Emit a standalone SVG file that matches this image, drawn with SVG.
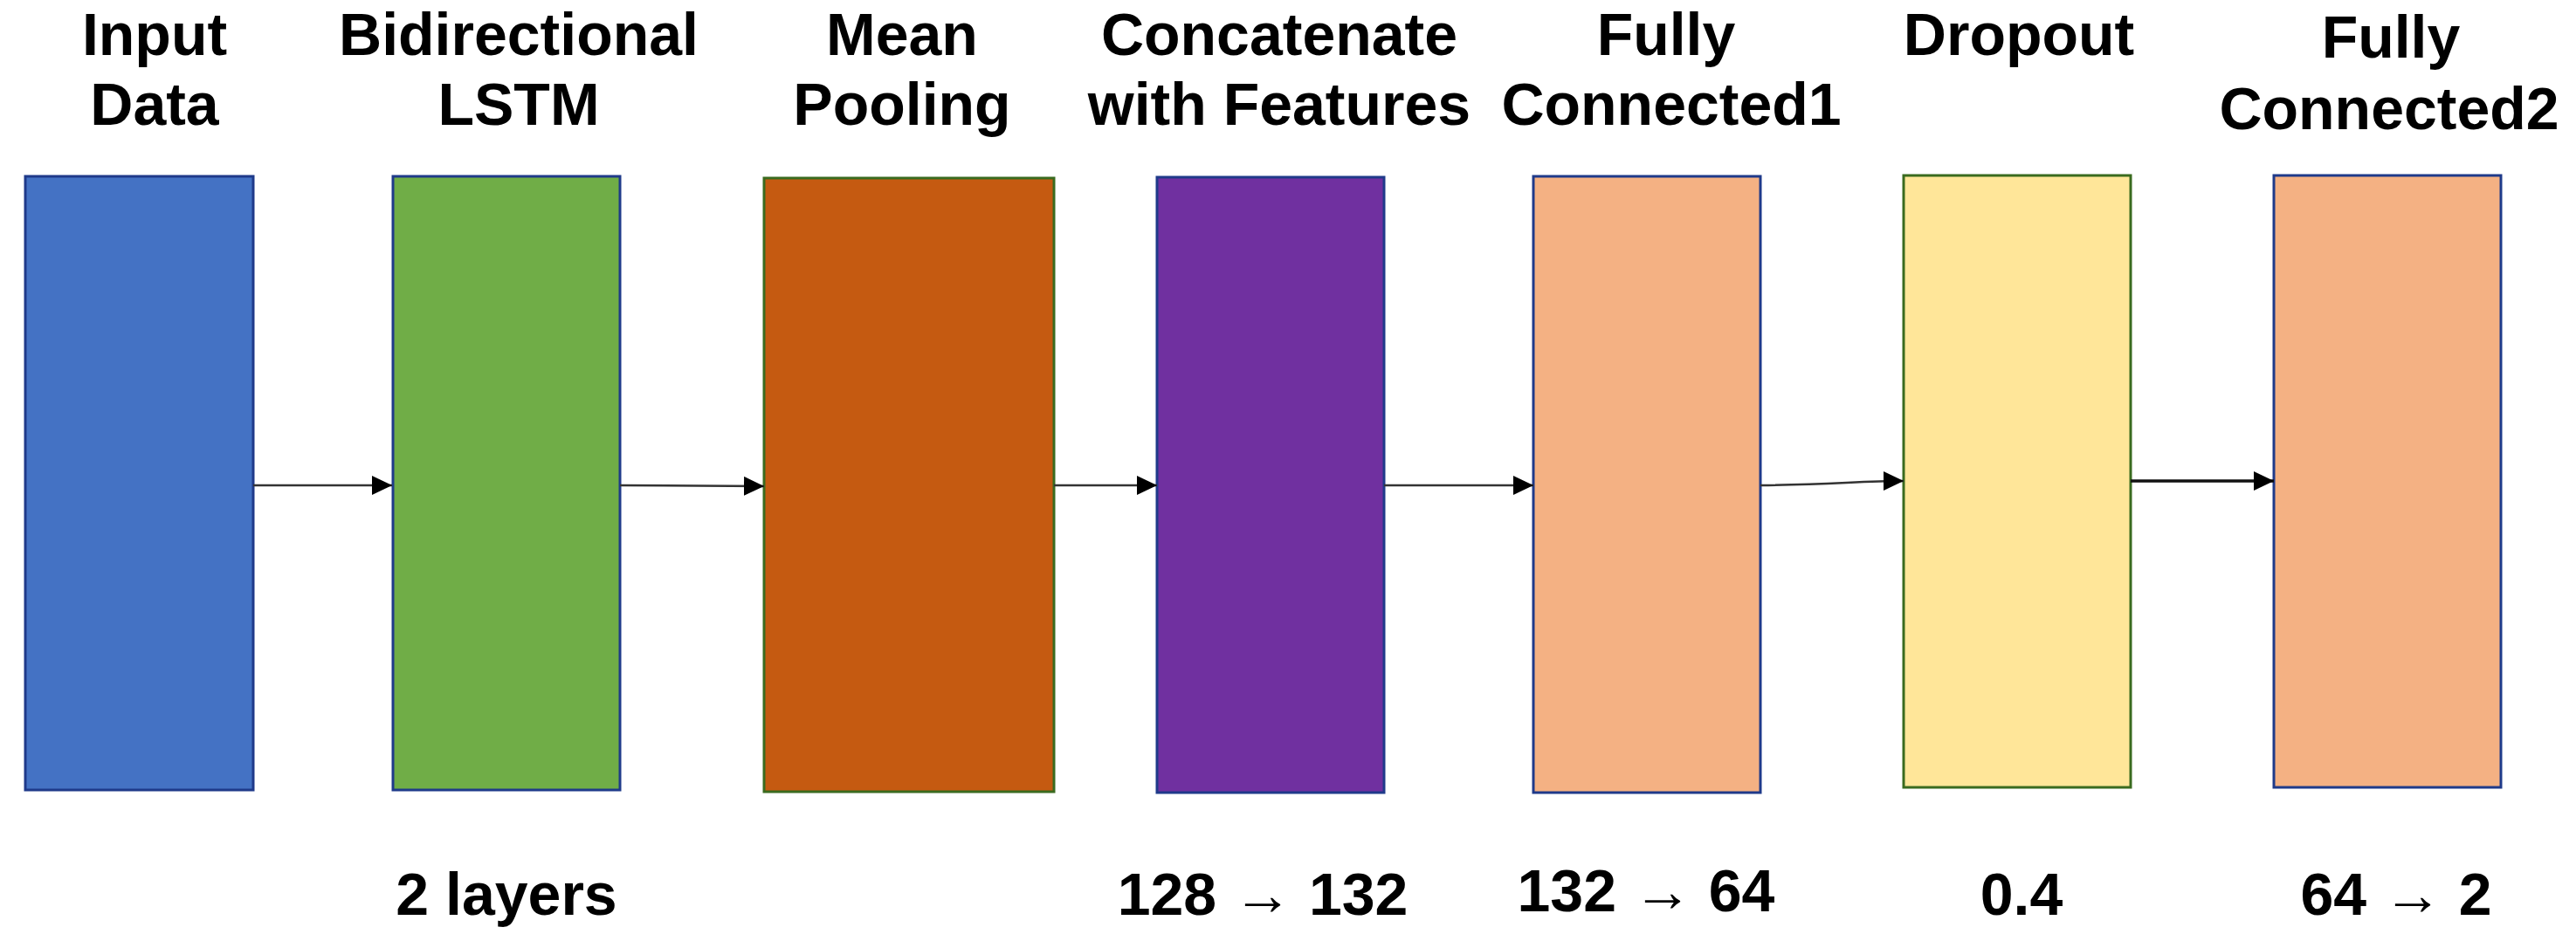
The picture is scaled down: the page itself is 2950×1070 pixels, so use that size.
<svg xmlns="http://www.w3.org/2000/svg" width="2950" height="1070" viewBox="0 0 2950 1070">
<style>
text{font-family:"Liberation Sans",Arial,sans-serif;font-weight:bold;font-size:68px;fill:#000;text-anchor:middle}
.box{stroke-width:3}
.blue{stroke:#1f3a8a}
.green{stroke:#3a6b1f}
.conn{fill:none;stroke:#333;stroke-width:2.5}
</style>
<defs>
<marker id="ah" markerUnits="userSpaceOnUse" markerWidth="24" markerHeight="24" refX="23" refY="11" orient="auto">
<path d="M0,0 L23,11 L0,22 Z" fill="#000"/>
</marker>
</defs>
<rect width="2950" height="1070" fill="#fff"/>
<g id="n1">
<rect class="box blue" x="29" y="202" width="261" height="703" fill="#4472C4"/>
<text x="177" y="63">Input</text>
<text x="177" y="143">Data</text>
</g>
<g id="n2">
<rect class="box blue" x="450" y="202" width="260" height="703" fill="#70AD47"/>
<text x="594" y="63">Bidirectional</text>
<text x="594" y="143">LSTM</text>
<text x="580" y="1048">2 layers</text>
</g>
<g id="n3">
<rect class="box green" x="875" y="204" width="332" height="703" fill="#C55A11"/>
<text x="1033" y="63">Mean</text>
<text x="1033" y="143">Pooling</text>
</g>
<g id="n4">
<rect class="box blue" x="1325" y="203" width="260" height="705" fill="#7030A0"/>
<text x="1465" y="63">Concatenate</text>
<text x="1465" y="143">with Features</text>
<text x="1446" y="1048">128 → 132</text>
</g>
<g id="n5">
<rect class="box blue" x="1756" y="202" width="260" height="706" fill="#F4B183"/>
<text x="1908" y="63">Fully</text>
<text x="1914" y="143">Connected1</text>
<text x="1885" y="1044">132 → 64</text>
</g>
<g id="n6">
<rect class="box green" x="2180" y="201" width="260" height="701" fill="#FFE699"/>
<text x="2312" y="63">Dropout</text>
<text x="2315" y="1048">0.4</text>
</g>
<g id="n7">
<rect class="box blue" x="2604" y="201" width="260" height="701" fill="#F4B183"/>
<text x="2738" y="66">Fully</text>
<text x="2736" y="148">Connected2</text>
<text x="2744" y="1048">64 → 2</text>
</g>
<g id="connectors">
<path class="conn" d="M290,556 L449,556" marker-end="url(#ah)"/>
<path class="conn" d="M710,556 L875,557" marker-end="url(#ah)"/>
<path class="conn" d="M1207,556 L1325,556" marker-end="url(#ah)"/>
<path class="conn" d="M1585,556 L1756,556" marker-end="url(#ah)"/>
<path class="conn" d="M2016,556 C2100,555 2130,551 2180,551" marker-end="url(#ah)"/>
<path class="conn" style="stroke-width:3.5;stroke:#111" d="M2440,551 L2604,551" marker-end="url(#ah)"/>
</g>
</svg>
